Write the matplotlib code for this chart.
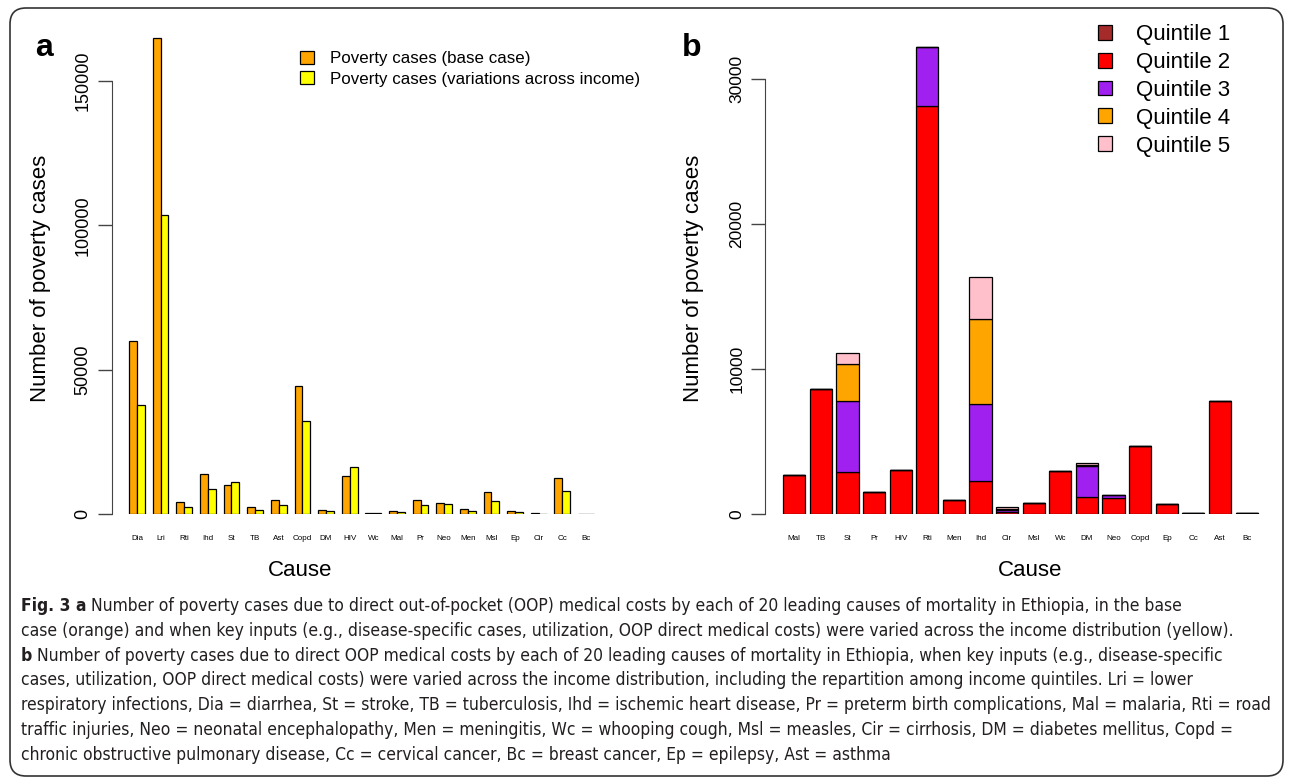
import matplotlib
matplotlib.use('Agg')
from matplotlib import pyplot as plt
from matplotlib import font_manager
from matplotlib.patches import FancyBboxPatch
from matplotlib.transforms import IdentityTransform

# panel a: poverty cases per cause
causes_a = ['Dia', 'Lri', 'Rti', 'Ihd', 'St', 'TB', 'Ast', 'Copd', 'DM', 'HIV',
            'Wc', 'Mal', 'Pr', 'Neo', 'Men', 'Msl', 'Ep', 'Cir', 'Cc', 'Bc']
base_case = [60000, 165000, 4300, 14000, 10200, 2400, 5000, 44200, 1500, 13300,
             500, 1200, 4700, 3700, 1700, 7500, 1200, 200, 12600, 100]
across_income = [37800, 103600, 2500, 8800, 11200, 1500, 3000, 32100, 1000, 16400,
                 400, 800, 3000, 3600, 1200, 4600, 800, 150, 7900, 100]

# panel b: repartition among income quintiles
causes_b = ['Mal', 'TB', 'St', 'Pr', 'HIV', 'Rti', 'Men', 'Ihd', 'Cir', 'Msl',
            'Wc', 'DM', 'Neo', 'Copd', 'Ep', 'Cc', 'Ast', 'Bc']
quintile_1 = [0] * 18
quintile_2 = [2700, 8660, 2900, 1510, 3070, 28150, 980, 2310, 150, 780,
              3000, 1190, 1120, 4670, 710, 100, 7830, 100]
quintile_3 = [0, 0, 4870, 0, 0, 4050, 0, 5270, 150, 0,
              0, 2110, 180, 0, 0, 0, 0, 0]
quintile_4 = [0, 0, 2610, 0, 0, 0, 0, 5890, 80, 0,
              0, 100, 0, 0, 0, 0, 0, 0]
quintile_5 = [0, 0, 750, 0, 0, 0, 0, 2890, 100, 0,
              0, 100, 0, 0, 0, 0, 0, 0]
quintiles = [quintile_1, quintile_2, quintile_3, quintile_4, quintile_5]
quintile_labels = ['Quintile 1', 'Quintile 2', 'Quintile 3', 'Quintile 4', 'Quintile 5']
quintile_colors = ['#A52A2A', '#FF0000', '#A020F0', '#FFA500', '#FFC0CB']

caption_lines = [
    ('Fig. 3 a', ' Number of poverty cases due to direct out-of-pocket (OOP) medical costs by each of 20 leading causes of mortality in Ethiopia, in the base'),
    ('', 'case (orange) and when key inputs (e.g., disease-specific cases, utilization, OOP direct medical costs) were varied across the income distribution (yellow).'),
    ('b', ' Number of poverty cases due to direct OOP medical costs by each of 20 leading causes of mortality in Ethiopia, when key inputs (e.g., disease-specific'),
    ('', 'cases, utilization, OOP direct medical costs) were varied across the income distribution, including the repartition among income quintiles. Lri = lower'),
    ('', 'respiratory infections, Dia = diarrhea, St = stroke, TB = tuberculosis, Ihd = ischemic heart disease, Pr = preterm birth complications, Mal = malaria, Rti = road'),
    ('', 'traffic injuries, Neo = neonatal encephalopathy, Men = meningitis, Wc = whooping cough, Msl = measles, Cir = cirrhosis, DM = diabetes mellitus, Copd ='),
    ('', 'chronic obstructive pulmonary disease, Cc = cervical cancer, Bc = breast cancer, Ep = epilepsy, Ast = asthma'),
]

W, H = 1292, 782
plt.rcParams['font.family'] = ['Liberation Sans', 'DejaVu Sans']
fig = plt.figure(figsize=(W / 100, H / 100), dpi=100)
fig.patch.set_facecolor('white')


def px_axes(left, top, right, bottom):
    return fig.add_axes([left / W, 1 - bottom / H, (right - left) / W, (bottom - top) / H])


def style_axes(axes, yticks, label_size):
    for side in ('top', 'right', 'bottom'):
        axes.spines[side].set_visible(False)
    axes.spines['left'].set_bounds(yticks[0], yticks[-1])
    axes.spines['left'].set_color('#444444')
    axes.set_yticks(yticks)
    axes.set_yticklabels([str(t) for t in yticks], rotation=90, va='center', fontsize=label_size)
    axes.tick_params(axis='y', length=10, width=1, color='#444444', pad=5)
    axes.tick_params(axis='x', length=0, pad=15, labelsize=5.8)
    axes.patch.set_alpha(0)


# ---- panel a ----
ax_a = px_axes(112, 29, 640, 514)
xs = [3 * i for i in range(len(causes_a))]
bars_base = ax_a.bar([x + 1.5 for x in xs], base_case, width=1, color='#FFA500',
                     edgecolor='black', linewidth=0.9, label='Poverty cases (base case)')
bars_var = ax_a.bar([x + 2.5 for x in xs], across_income, width=1, color='#FFFF00',
                    edgecolor='black', linewidth=0.9, label='Poverty cases (variations across income)')
ax_a.set_xlim(-1.17, 65.86)
ax_a.set_ylim(0, 168000)
ax_a.set_xticks([x + 2 for x in xs])
ax_a.set_xticklabels(causes_a)
style_axes(ax_a, [0, 50000, 100000, 150000], 13)
ax_a.legend(handles=[bars_base, bars_var], loc='upper left', frameon=False,
            bbox_to_anchor=(300 / W, 1 - 51 / H), bbox_transform=fig.transFigure,
            fontsize=12.2, handlelength=0.8, handleheight=0.8, handletextpad=1.0,
            labelspacing=0.3, borderpad=0, borderaxespad=0)

# ---- panel b ----
ax_b = px_axes(765, 30, 1275, 514.3)
xb = [0.7 + 1.2 * i for i in range(len(causes_b))]
bottom = [0] * len(causes_b)
handles = []
for values, color, label in zip(quintiles, quintile_colors, quintile_labels):
    bars = ax_b.bar(xb, values, width=1, bottom=bottom, color=color,
                    edgecolor='black', linewidth=0.9, label=label)
    handles.append(bars)
    bottom = [b + v for b, v in zip(bottom, values)]
ax_b.set_xlim(-0.62, 22.38)
ax_b.set_ylim(0, 33354)
ax_b.set_xticks(xb)
ax_b.set_xticklabels(causes_b)
style_axes(ax_b, [0, 10000, 20000, 30000], 12.5)
ax_b.legend(handles=handles, loc='upper left', frameon=False,
            bbox_to_anchor=(1098 / W, 1 - 24 / H), bbox_transform=fig.transFigure,
            fontsize=16, handlelength=0.65, handleheight=0.65, handletextpad=1.05,
            labelspacing=0.31, borderpad=0, borderaxespad=0)

# panel letters and axis titles
fig.text(35 / W, 1 - 56 / H, 'a', fontsize=23, fontweight='bold')
fig.text(682 / W, 1 - 56 / H, 'b', fontsize=23, fontweight='bold')
for x_lab, y_mid in ((41, 278), (694, 278)):
    fig.text(x_lab / W, 1 - y_mid / H, 'Number of poverty cases', rotation=90,
             fontsize=16, ha='center', va='center')
for x_mid in (300, 1030):
    fig.text(x_mid / W, 1 - 571 / H, 'Cause', fontsize=16, ha='center', va='center')

# caption: use a condensed face when one is installed
cap_family = ['Liberation Sans', 'DejaVu Sans']
cap_stretch = 'normal'
for f in font_manager.fontManager.ttflist:
    if f.name == 'Liberation Sans Narrow':
        cap_family = ['Liberation Sans Narrow', 'DejaVu Sans']
        break
    if f.name == 'DejaVu Sans' and f.stretch == 'condensed':
        cap_family = ['DejaVu Sans']
        cap_stretch = 'condensed'

renderer = fig.canvas.get_renderer()
probe = fig.text(0, 0, caption_lines[4][1], fontsize=10, family=cap_family, stretch=cap_stretch)
cap_size = 10 * 1248 / probe.get_window_extent(renderer).width
probe.remove()

text_color = '#231F20'
for i, (bold, rest) in enumerate(caption_lines):
    y = 1 - (611 + 24.8 * i) / H
    x = 21 / W
    if bold:
        t = fig.text(x, y, bold, fontsize=cap_size, fontweight='bold', stretch=cap_stretch,
                     family=cap_family, color=text_color, va='baseline')
        x = t.get_window_extent(renderer).x1 / W
    fig.text(x, y, rest, fontsize=cap_size, family=cap_family, stretch=cap_stretch,
             color=text_color, va='baseline')

frame = FancyBboxPatch((10, H - 776), 1273, 768, boxstyle='round,pad=0,rounding_size=16',
                       transform=IdentityTransform(), facecolor='none',
                       edgecolor='#333333', linewidth=1.2)
fig.add_artist(frame)

fig.savefig('out.png', dpi=100)
plt.close(fig)
